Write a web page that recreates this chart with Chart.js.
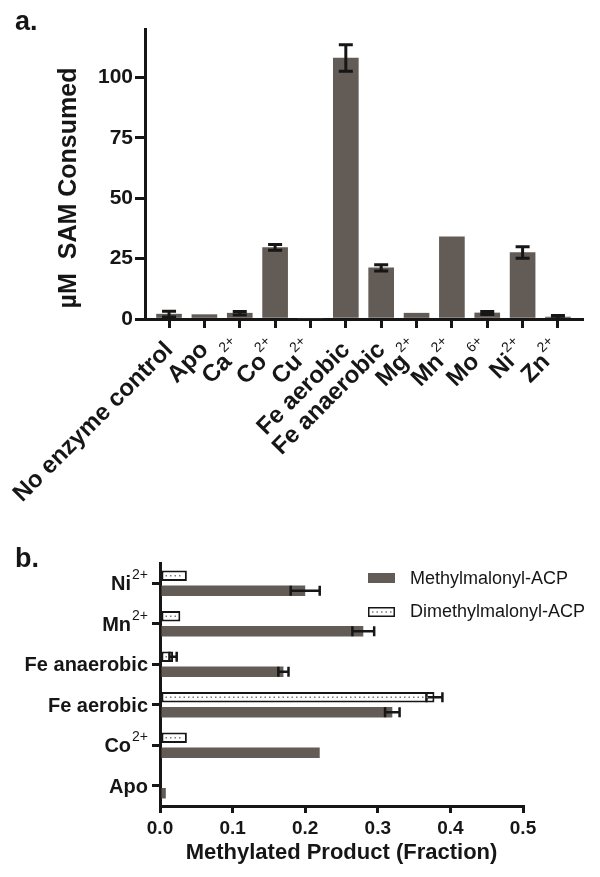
<!DOCTYPE html>
<html>
<head>
<meta charset="utf-8">
<script src="https://cdn.jsdelivr.net/npm/chart.js@4.4.1/dist/chart.umd.min.js"></script>
<style>
  html, body { margin: 0; padding: 0; background: #fff; }
  #wrap { position: relative; width: 600px; height: 877px; }
  #cA { position: absolute; left: 0; top: 0; }
  #cB { position: absolute; left: 0; top: 530px; }
</style>
</head>
<body>
<div id="wrap">
  <canvas id="cA" width="600" height="530"></canvas>
  <canvas id="cB" width="600" height="347"></canvas>
</div>
<script>
// Panel a data
const samLabels = ['No enzyme control', 'Apo', 'Ca', 'Co', 'Cu', 'Fe aerobic', 'Fe anaerobic', 'Mg', 'Mn', 'Mo', 'Ni', 'Zn'];
const samCharges = ['', '', '2+', '2+', '2+', '', '', '2+', '2+', '6+', '2+', '2+'];
const samValues = [2.0, 1.8, 2.4, 29.6, 0, 108, 21.2, 2.4, 34, 2.5, 27.5, 0.8];
const samErrors = [1.2, 0, 0.7, 1.2, 0, 5.5, 1.3, 0, 0, 0.6, 2.4, 0.7];
const samTicks = [0, 25, 50, 75, 100];

// Panel b data (top to bottom)
const prodLabels = ['Ni', 'Mn', 'Fe anaerobic', 'Fe aerobic', 'Co', 'Apo'];
const prodCharges = ['2+', '2+', '', '', '2+', ''];
const methylValues = [0.20, 0.28, 0.17, 0.32, 0.22, 0.008];
const methylErrors = [0.02, 0.015, 0.007, 0.01, 0, 0];
const dimethylValues = [0.037, 0.028, 0.018, 0.378, 0.037, 0];
const dimethylErrors = [0, 0, 0.005, 0.011, 0, 0];
const fractionTicks = [0, 0.1, 0.2, 0.3, 0.4, 0.5];

const FONT = '"Liberation Sans", Arial, Helvetica, sans-serif';
const INK = '#161616';
const BAR = '#625b56';

Chart.defaults.font.family = FONT;
Chart.defaults.color = INK;

// error bars for both charts
const errorBars = {
    id: 'errorBars',
    afterDatasetsDraw(chart) {
        const ctx = chart.ctx;
        const horizontal = chart.options.indexAxis === 'y';
        const vScale = horizontal ? chart.scales.x : chart.scales.y;
        ctx.save();
        ctx.strokeStyle = INK;
        ctx.lineWidth = horizontal ? 2.5 : 3;
        chart.data.datasets.forEach((ds, di) => {
            const meta = chart.getDatasetMeta(di);
            meta.data.forEach((bar, i) => {
                const err = ds.errors[i];
                if (!err) return;
                const d = ds.data[i];
                const v = typeof d === 'object' ? d.y : d;
                const lo = vScale.getPixelForValue(v - err);
                const hi = vScale.getPixelForValue(v + err);
                const cap = horizontal ? 5 : 7;
                ctx.beginPath();
                if (horizontal) {
                    ctx.moveTo(lo, bar.y); ctx.lineTo(hi, bar.y);
                    ctx.moveTo(lo, bar.y - cap); ctx.lineTo(lo, bar.y + cap);
                    ctx.moveTo(hi, bar.y - cap); ctx.lineTo(hi, bar.y + cap);
                } else {
                    ctx.moveTo(bar.x, lo); ctx.lineTo(bar.x, hi);
                    ctx.moveTo(bar.x - cap, lo); ctx.lineTo(bar.x + cap, lo);
                    ctx.moveTo(bar.x - cap, hi); ctx.lineTo(bar.x + cap, hi);
                }
                ctx.stroke();
            });
        });
        ctx.restore();
    }
};

// rotated category labels, axis title and panel letter for chart a
const labelsA = {
    id: 'labelsA',
    afterDraw(chart) {
        const { ctx, scales: { x, y } } = chart;
        ctx.save();
        ctx.fillStyle = INK;
        samLabels.forEach((name, i) => {
            const sup = samCharges[i];
            ctx.save();
            ctx.translate(x.getPixelForValue(i) + 5, y.bottom + 32);
            ctx.rotate(-Math.PI / 4);
            ctx.textAlign = 'right';
            ctx.textBaseline = 'alphabetic';
            let sw = 0;
            if (sup) {
                ctx.font = `14px ${FONT}`;
                sw = ctx.measureText(sup).width + 1;
                ctx.fillText(sup, 0, -13);
            }
            ctx.font = `bold 24px ${FONT}`;
            ctx.fillText(name, -sw, 0);
            ctx.restore();
        });

        ctx.save();
        ctx.translate(69, (y.top + y.bottom) / 2 + 14);
        ctx.rotate(-Math.PI / 2);
        ctx.textAlign = 'center';
        ctx.textBaseline = 'middle';
        ctx.font = `bold 25px ${FONT}`;
        ctx.fillText('\u00B5M  SAM Consumed', 0, 0);
        ctx.restore();

        ctx.font = `bold 27px ${FONT}`;
        ctx.textAlign = 'left';
        ctx.textBaseline = 'alphabetic';
        ctx.fillText('a.', 15, 30);
        ctx.restore();
    }
};

// dotted fill inside the open bars
const dotFill = {
    id: 'dotFill',
    afterDatasetsDraw(chart) {
        const ctx = chart.ctx;
        const meta = chart.getDatasetMeta(0);
        ctx.save();
        ctx.strokeStyle = '#7a7a7a';
        ctx.lineWidth = 1.5;
        ctx.setLineDash([1.5, 3]);
        meta.data.forEach(bar => {
            const { x, y, base } = bar.getProps(['x', 'y', 'base'], true);
            if (x - base < 8) return;
            ctx.beginPath();
            ctx.moveTo(base + 4, y);
            ctx.lineTo(x - 4, y);
            ctx.stroke();
        });
        ctx.restore();
    }
};

// category labels, legend, axis title and letter for chart b
const labelsB = {
    id: 'labelsB',
    afterDraw(chart) {
        const { ctx, chartArea, scales: { x, y } } = chart;
        ctx.save();
        ctx.fillStyle = INK;
        ctx.textBaseline = 'alphabetic';
        ctx.textAlign = 'right';
        prodLabels.forEach((name, i) => {
            const py = y.getPixelForValue(i);
            const right = chartArea.left - 12;
            const sup = prodCharges[i];
            let sw = 0;
            if (sup) {
                ctx.font = `14px ${FONT}`;
                sw = ctx.measureText(sup).width + 1;
                ctx.fillText(sup, right, py - 4);
            }
            ctx.font = `bold 20px ${FONT}`;
            ctx.fillText(name, right - sw, py + 7);
        });

        // legend
        const lx = chartArea.left + 208;
        const ly = chartArea.top + 10;
        ctx.fillStyle = BAR;
        ctx.fillRect(lx, ly, 27, 10);
        ctx.fillStyle = '#fff';
        ctx.fillRect(lx, ly + 34, 27, 10);
        ctx.strokeStyle = INK;
        ctx.lineWidth = 1.5;
        ctx.strokeRect(lx + 0.75, ly + 34.75, 25.5, 8.5);
        ctx.save();
        ctx.strokeStyle = '#7a7a7a';
        ctx.setLineDash([1.5, 3]);
        ctx.beginPath();
        ctx.moveTo(lx + 4, ly + 39);
        ctx.lineTo(lx + 24, ly + 39);
        ctx.stroke();
        ctx.restore();
        ctx.fillStyle = INK;
        ctx.font = `18px ${FONT}`;
        ctx.textAlign = 'left';
        ctx.textBaseline = 'middle';
        ctx.fillText('Methylmalonyl-ACP', lx + 42, ly + 6);
        ctx.fillText('Dimethylmalonyl-ACP', lx + 42, ly + 39);

        // axis title
        ctx.font = `bold 22px ${FONT}`;
        ctx.textAlign = 'center';
        ctx.fillText('Methylated Product (Fraction)', (chartArea.left + chartArea.right) / 2, chartArea.bottom + 47);

        ctx.font = `bold 27px ${FONT}`;
        ctx.textAlign = 'left';
        ctx.textBaseline = 'alphabetic';
        ctx.fillText('b.', 15, 37);
        ctx.restore();
    }
};

const axisGrid = (len) => ({
    display: true, drawOnChartArea: false, drawTicks: true,
    tickLength: len, lineWidth: 3, color: INK, offset: false
});
const axisBorder = { display: true, width: 3, color: INK };

new Chart(document.getElementById('cA'), {
    type: 'bar',
    data: {
        datasets: [{
            data: samValues.map((v, i) => ({ x: i, y: v })),
            errors: samErrors,
            backgroundColor: BAR,
            barThickness: 25
        }]
    },
    options: {
        responsive: false,
        animation: false,
        layout: { padding: { left: 0, top: 29, right: 18, bottom: 21 } },
        plugins: { legend: { display: false }, tooltip: { enabled: false } },
        scales: {
            x: {
                type: 'linear', min: -0.68, max: 11.68, offset: false,
                afterBuildTicks: s => { s.ticks = samLabels.map((_, i) => ({ value: i })); },
                afterFit: s => { s.height = 190; },
                ticks: { display: false },
                grid: axisGrid(9),
                border: axisBorder
            },
            y: {
                min: 0, max: 120,
                afterBuildTicks: s => { s.ticks = samTicks.map(v => ({ value: v })); },
                afterFit: s => { s.width = 145; },
                ticks: { font: { size: 21, weight: 'bold' }, color: INK, padding: 2 },
                grid: axisGrid(10),
                border: axisBorder
            }
        }
    },
    plugins: [errorBars, labelsA]
});

new Chart(document.getElementById('cB'), {
    type: 'bar',
    data: {
        labels: prodLabels,
        datasets: [
            {
                label: 'Dimethylmalonyl-ACP',
                data: dimethylValues,
                errors: dimethylErrors,
                backgroundColor: '#ffffff',
                borderColor: INK,
                borderWidth: 2,
                borderSkipped: false,
                categoryPercentage: 0.74,
                barPercentage: 0.7
            },
            {
                label: 'Methylmalonyl-ACP',
                data: methylValues,
                errors: methylErrors,
                backgroundColor: BAR,
                categoryPercentage: 0.74,
                barPercentage: 0.7
            }
        ]
    },
    options: {
        indexAxis: 'y',
        responsive: false,
        animation: false,
        layout: { padding: { left: 0, top: 33, right: 77, bottom: 11 } },
        plugins: { legend: { display: false }, tooltip: { enabled: false } },
        scales: {
            x: {
                min: 0, max: 0.5,
                afterBuildTicks: s => { s.ticks = fractionTicks.map(v => ({ value: v })); },
                afterFit: s => { s.height = 60; },
                ticks: { font: { size: 19, weight: 'bold' }, color: INK, padding: 4, callback: v => v.toFixed(1) },
                grid: axisGrid(7),
                border: axisBorder
            },
            y: {
                afterFit: s => { s.width = 160; },
                ticks: { display: false },
                grid: axisGrid(8),
                border: axisBorder
            }
        }
    },
    plugins: [errorBars, dotFill, labelsB]
});
</script>
</body>
</html>
